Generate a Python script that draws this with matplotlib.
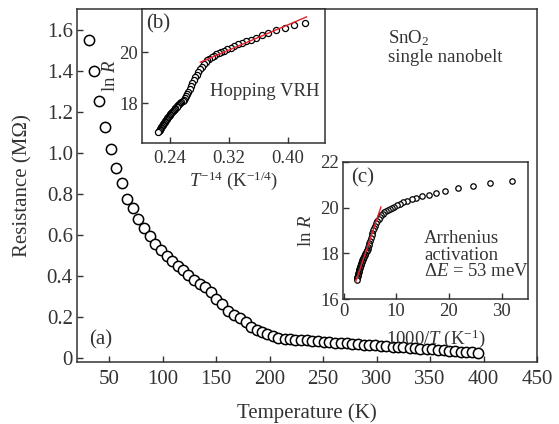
import matplotlib
matplotlib.use("Agg")
import matplotlib.pyplot as plt

plt.rcParams['font.family'] = ['Liberation Serif', 'DejaVu Serif']
plt.rcParams['mathtext.fontset'] = 'custom'
plt.rcParams['mathtext.rm'] = 'Liberation Serif'
plt.rcParams['mathtext.it'] = 'Liberation Serif:italic'

INK = '#333333'

# temperature of each measured point (K)
temp = [31.3, 36, 40.6, 46, 51.8, 56.7, 62, 66.9, 72.3, 77, 82.6, 88, 93, 98.5,
        104, 109, 114, 119, 124, 129, 135, 140, 145, 150, 156, 161, 167, 172,
        178, 183, 188, 193, 198, 203, 208, 214, 219, 224, 229, 235, 240, 245,
        251, 256, 261, 267, 272, 277, 283, 288, 293, 299, 304, 309, 315, 320,
        325, 331, 336, 341, 347, 352, 357, 363, 368, 373, 379, 384, 389, 395]

# resistance (MOhm), main panel
res = [1.55, 1.40, 1.254, 1.127, 1.02, 0.927, 0.854, 0.776, 0.732, 0.678,
       0.634, 0.595, 0.556, 0.527, 0.498, 0.473, 0.449, 0.429, 0.405, 0.38,
       0.361, 0.346, 0.322, 0.288, 0.263, 0.229, 0.21, 0.195, 0.176, 0.151,
       0.137, 0.127, 0.117, 0.107, 0.099, 0.094, 0.091, 0.089, 0.087, 0.085,
       0.083, 0.081, 0.079, 0.077, 0.075, 0.073, 0.071, 0.069, 0.067, 0.065,
       0.063, 0.061, 0.059, 0.057, 0.055, 0.053, 0.051, 0.049, 0.047, 0.045,
       0.043, 0.041, 0.039, 0.037, 0.035, 0.033, 0.031, 0.029, 0.027, 0.025]

# ln R, used by both insets
ln_r = [21.15, 21.07, 20.96, 20.85, 20.74, 20.65, 20.57, 20.49, 20.42, 20.36,
        20.30, 20.23, 20.17, 20.11, 20.05, 20.00, 19.96, 19.91, 19.86, 19.80,
        19.74, 19.67, 19.60, 19.52, 19.42, 19.32, 19.21, 19.11, 19.02, 18.91,
        18.80, 18.66, 18.55, 18.44, 18.36, 18.29, 18.20, 18.13, 18.09, 18.04,
        17.99, 17.96, 17.92, 17.88, 17.85, 17.81, 17.77, 17.74, 17.70, 17.65,
        17.61, 17.57, 17.53, 17.49, 17.45, 17.41, 17.37, 17.33, 17.29, 17.25,
        17.22, 17.18, 17.14, 17.10, 17.06, 17.02, 16.98, 16.94, 16.90, 16.85]

# fitted lines (end points)
vrh_fit_x = [0.281, 0.425]
vrh_fit_y = [19.6, 21.38]
arr_fit_x = [2.3, 7.1]
arr_fit_y = [16.75, 20.03]

main_yticks = [0, 0.2, 0.4, 0.6, 0.8, 1.0, 1.2, 1.4, 1.6]
main_ylabels = ['0', '0.2', '0.4', '0.6', '0.8', '1.0', '1.2', '1.4', '1.6']
main_xticks = [50, 100, 150, 200, 250, 300, 350, 400, 450]

W, H = 559, 424
BIG = 15
SMALL = 13.5


def rect(l, t, r, b):
    return [l / W, 1 - b / H, (r - l) / W, (b - t) / H]


def px(x, y):
    return x / W, 1 - y / H


def style(ax, size, xpad, ypad):
    for s in ax.spines.values():
        s.set_color(INK)
        s.set_linewidth(1.1)
    ax.tick_params(direction='in', length=4, width=1, colors=INK,
                   labelsize=size, labelcolor=INK, top=False, right=False)
    ax.tick_params(axis='x', pad=xpad)
    ax.tick_params(axis='y', pad=ypad)


fig = plt.figure(figsize=(W / 100, H / 100), dpi=100)

ax = fig.add_axes(rect(77, 9, 537, 362))
ax.plot(temp, res, 'o', ms=7.4, mfc='white', mec='black', mew=1.1)
ax.set_xlim(20, 450)
ax.set_ylim(-0.02, 1.70)
ax.set_xticks(main_xticks)
ax.set_yticks(main_yticks)
ax.set_yticklabels(main_ylabels)
style(ax, BIG, 6, 3)
ax.set_xlabel('Temperature (K)', fontsize=BIG, color=INK, labelpad=10)
ax.set_ylabel('Resistance (MΩ)', fontsize=BIG, color=INK, labelpad=10)

# inset (b): VRH
axb = fig.add_axes(rect(142, 9, 325, 143))
axb.plot([t ** -0.25 for t in temp], ln_r, 'o', ms=4.4, mfc='white',
         mec='black', mew=0.9)
axb.plot(vrh_fit_x, vrh_fit_y, color='#e8202a', lw=1.0)
axb.set_xlim(0.202, 0.45)
axb.set_ylim(16.43, 21.69)
axb.set_xticks([0.24, 0.32, 0.40])
axb.set_xticklabels(['0.24', '0.32', '0.40'])
axb.set_yticks([18, 20])
style(axb, SMALL, 5, 3)
axb.set_xlabel('$T^{-14}$ (K$^{-1/4}$)', fontsize=SMALL, color=INK, labelpad=2)
axb.set_ylabel('ln $R$', fontsize=SMALL, color=INK, labelpad=0)

# inset (c): Arrhenius
axc = fig.add_axes(rect(343, 162, 528, 299))
axc.plot([1000 / t for t in temp], ln_r, 'o', ms=3.9, mfc='white',
         mec='black', mew=0.9)
axc.plot(arr_fit_x, arr_fit_y, color='#e8202a', lw=1.0)
axc.set_xlim(-0.1, 35)
axc.set_ylim(16, 22)
axc.set_xticks([0, 10, 20, 30])
axc.set_yticks([16, 18, 20, 22])
style(axc, SMALL, 3, 3)
axc.set_xlabel('1000/$T$ (K$^{-1}$)', fontsize=SMALL, color=INK, labelpad=5)
axc.set_ylabel('ln $R$', fontsize=SMALL, color=INK, labelpad=4)

fig.text(*px(89, 340), '(a)', fontsize=BIG, color=INK, va='center')
fig.text(*px(146, 24), '(b)', fontsize=BIG, color=INK, va='center')
fig.text(*px(351, 178), '(c)', fontsize=BIG, color=INK, va='center')
fig.text(*px(210, 91), 'Hopping VRH', fontsize=SMALL, color=INK, va='center')
fig.text(*px(388, 38), 'SnO$_2$', fontsize=SMALL, color=INK, va='center')
fig.text(*px(388, 57), 'single nanobelt', fontsize=SMALL, color=INK, va='center')
fig.text(*px(424, 238), 'Arrhenius', fontsize=SMALL, color=INK, va='center')
fig.text(*px(424, 255), 'activation', fontsize=SMALL, color=INK, va='center')
fig.text(*px(424, 272), 'Δ$E$ = 53 meV', fontsize=SMALL, color=INK, va='center')

fig.savefig('out.png', dpi=100)
